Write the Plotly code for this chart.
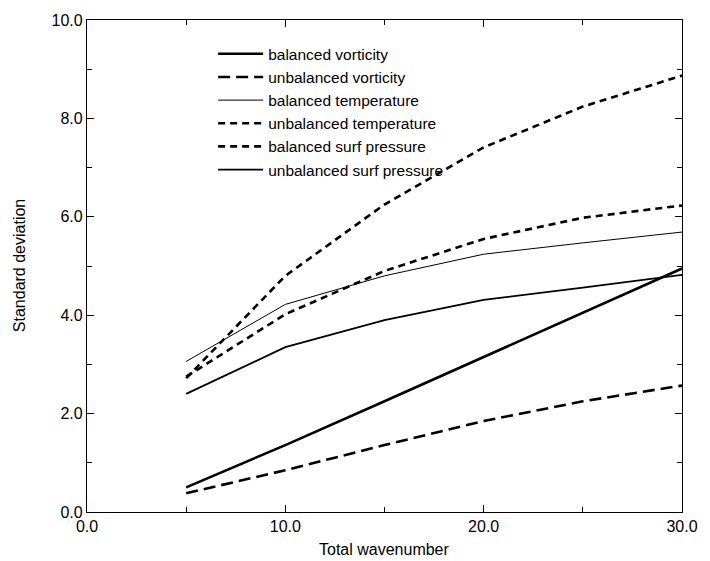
import plotly.graph_objects as go

wavenumber = [5, 10, 15, 20, 25, 30]
balanced_vorticity = [0.50, 1.36, 2.25, 3.15, 4.05, 4.95]
unbalanced_vorticity = [0.38, 0.85, 1.36, 1.85, 2.25, 2.57]
balanced_temperature = [3.06, 4.22, 4.80, 5.24, 5.47, 5.69]
unbalanced_temperature = [2.72, 4.80, 6.25, 7.41, 8.24, 8.87]
balanced_surf_pressure = [2.75, 4.02, 4.90, 5.55, 5.98, 6.23]
unbalanced_surf_pressure = [2.40, 3.35, 3.90, 4.31, 4.56, 4.82]

series = [
    ("balanced vorticity", balanced_vorticity, 2.6, "solid"),
    ("unbalanced vorticity", unbalanced_vorticity, 2.6, "12px,6px"),
    ("balanced temperature", balanced_temperature, 1.0, "solid"),
    ("unbalanced temperature", unbalanced_temperature, 2.6, "7px,5px"),
    ("balanced surf pressure", balanced_surf_pressure, 2.6, "7px,5px"),
    ("unbalanced surf pressure", unbalanced_surf_pressure, 1.8, "solid"),
]

fig = go.Figure()
for name, vals, w, dash in series:
    fig.add_trace(go.Scatter(
        x=wavenumber, y=vals, name=name, mode="lines",
        line=dict(color="black", width=w, dash=dash),
    ))

FAM = "Liberation Sans, Arial, Helvetica, sans-serif"
font = dict(family=FAM, size=16, color="black")

axis_common = dict(
    showgrid=False, zeroline=False, showline=True, linecolor="black", linewidth=1.2,
    mirror="ticks", ticks="inside", ticklen=7, tickwidth=1, tickcolor="black",
    tickformat=".1f", tickfont=font,
)

fig.update_xaxes(range=[0, 30], dtick=10, tick0=0,
                 minor=dict(dtick=5, ticks="inside", ticklen=5, tickcolor="black"),
                 **axis_common)
fig.update_yaxes(range=[0, 10], dtick=2, tick0=0,
                 minor=dict(dtick=1, ticks="inside", ticklen=5, tickcolor="black"),
                 **axis_common)

fig.add_annotation(text="Total wavenumber", xref="paper", yref="paper",
                   x=0.5, y=-0.077, xanchor="center", yanchor="middle",
                   showarrow=False, font=dict(family=FAM, size=16, color="black"))
fig.add_annotation(text="Standard deviation", xref="paper", yref="paper",
                   x=-0.114, y=0.5, xanchor="center", yanchor="middle", textangle=-90,
                   showarrow=False, font=dict(family=FAM, size=16, color="black"))

fig.update_layout(
    width=710, height=561,
    margin=dict(l=87, r=19, t=18, b=49),
    plot_bgcolor="white", paper_bgcolor="white",
    font=font,
    legend=dict(x=0.212, y=0.965, xanchor="left", yanchor="top",
                bgcolor="rgba(0,0,0,0)", borderwidth=0,
                font=dict(family=FAM, size=15.5, color="black"),
                tracegroupgap=0, itemwidth=45),
    showlegend=True,
)

fig.write_html("out.html")
